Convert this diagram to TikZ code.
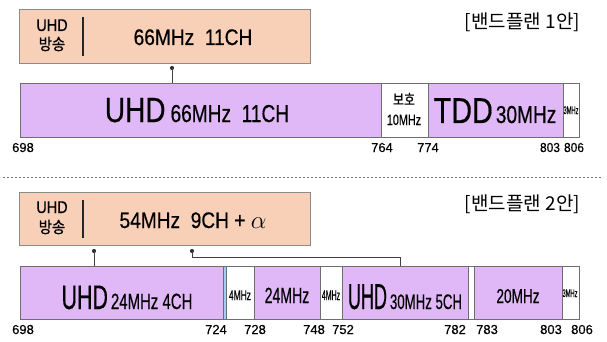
\documentclass[tikz,border=0pt]{standalone}
\usepackage{fontspec}
\setmainfont{Liberation Sans}[FakeBold=0.5]
\newfontfamily\kr{Noto Sans CJK KR}
\newfontfamily\krb{Noto Sans CJK KR}[FakeBold=0.8]
\usepackage{graphicx}
\newcommand\hs[2]{\scalebox{#1}[1]{#2}}
\newcommand\fs[1]{\fontsize{#1}{#1}\selectfont}
\definecolor{peach}{HTML}{F8D0B8}
\definecolor{lav}{HTML}{E0B8F8}
\definecolor{edge}{HTML}{6E6E6E}
\definecolor{blu}{HTML}{A8CCEE}
\begin{document}
\begin{tikzpicture}[x=1pt,y=-1pt,
  seg/.style={draw=edge, line width=0.9pt, inner sep=0pt, outer sep=0pt, anchor=north west},
  ubox/.style={seg, fill=peach, draw=edge!80},
  txt/.style={inner sep=0pt, outer sep=0pt, anchor=base},
  lbl/.style={txt, font=\fs{13}},
  conn/.style={draw=black!75, line width=0.8pt},
  dotc/.style={fill=black!80}]
\useasboundingbox (0,0) rectangle (607,342);
% ---------- Plan 1 ----------
\node[ubox, minimum width=291pt, minimum height=54pt] (o1) at (19,9) {};
\coordinate (v1a) at (83,17); \coordinate (v1b) at (83,56);
\draw[line width=1.4pt, black!85] (v1a) -- (v1b);
\node[txt] (o1u) at (52,31) {\hs{0.85}{\fs{17}UHD}};
\node[txt] (o1k) at (52,50) {\hs{0.9}{\krb\fs{16}방송}};
\node[txt] (o1t) at (193,45) {\hs{0.85}{\fs{22.5}66MHz\ \ 11CH}};
\node[txt, anchor=base east] (title1) at (580,29) {\kr\fs{19}[밴드플랜 1안]};

\node[seg, fill=lav, minimum width=361pt, minimum height=54pt] (a1) at (20,83) {};
\node[seg, fill=white, minimum width=47pt, minimum height=54pt] (a2) at (381,83) {};
\node[seg, fill=lav, minimum width=135pt, minimum height=54pt] (a3) at (428,83) {};
\node[seg, fill=white, minimum width=16pt, minimum height=54pt] (a4) at (563,83) {};

\node[txt] (a1t) at (197,122) {\hs{0.8}{\fs{35}UHD}\hspace{5pt}\hs{0.78}{\fs{24.5}66MHz\ \ 11CH}};
\node[txt] (a2t) at (404,105) {\hs{0.8}{\krb\fs{15}보호}};
\node[txt] (a2u) at (404,125) {\hs{0.72}{\fs{15}10MHz}};
\node[txt] (a3t) at (495,123) {\hs{0.8}{\fs{36}TDD}\hspace{3pt}\hs{0.78}{\fs{24.5}30MHz}};
\node[txt] (a4t) at (571,114) {\hs{0.52}{\fs{11}3MHz}};

\node[lbl] (l1a) at (23,152) {698};
\node[lbl] (l1b) at (382,152) {764};
\node[lbl] (l1c) at (428,152) {774};
\node[lbl] (l1d) at (550,152) {\hs{0.92}{803}};
\node[lbl] (l1e) at (574,152) {\hs{0.92}{806}};

\coordinate (d1) at (172,68);
\fill[dotc] (d1) circle (2.1pt);
\draw[conn] (d1) -- (d1 |- a1.north);

% ---------- separator ----------
\coordinate (sepL) at (3,177); \coordinate (sepR) at (602,177);
\draw[black!55, line width=0.7pt, dash pattern=on 2pt off 2pt] (sepL) -- (sepR);

% ---------- Plan 2 ----------
\node[ubox, minimum width=291pt, minimum height=53pt] (o2) at (19,192) {};
\coordinate (v2a) at (83,200); \coordinate (v2b) at (83,238);
\draw[line width=1.4pt, black!85] (v2a) -- (v2b);
\node[txt] (o2u) at (52,213) {\hs{0.85}{\fs{17}UHD}};
\node[txt] (o2k) at (52,233) {\hs{0.9}{\krb\fs{16}방송}};
\node[txt] (o2t) at (193,228) {\hs{0.85}{\fs{22.5}54MHz\ \ 9CH + }\fs{36}$\alpha$};
\node[txt, anchor=base east] (title2) at (580,210) {\kr\fs{19}[밴드플랜 2안]};

\node[seg, fill=lav, minimum width=203pt, minimum height=53pt] (b1) at (20,266) {};
\node[seg, fill=blu, minimum width=3pt, minimum height=53pt] (b2) at (223,266) {};
\node[seg, fill=white, minimum width=28pt, minimum height=53pt] (b3) at (226,266) {};
\node[seg, fill=lav, minimum width=66pt, minimum height=53pt] (b4) at (254,266) {};
\node[seg, fill=white, minimum width=22pt, minimum height=53pt] (b5) at (320,266) {};
\node[seg, fill=lav, minimum width=126pt, minimum height=53pt] (b6) at (342,266) {};
\node[seg, fill=white, minimum width=6pt, minimum height=53pt] (b7) at (468,266) {};
\node[seg, fill=lav, minimum width=88pt, minimum height=53pt] (b8) at (474,266) {};
\node[seg, fill=white, minimum width=17pt, minimum height=53pt] (b9) at (562,266) {};

\node[txt] (b1t) at (127,309) {\hs{0.63}{\fs{34}UHD}\hspace{3pt}\hs{0.68}{\fs{22}24MHz 4CH}};
\node[txt] (b3t) at (240,300) {\hs{0.6}{\fs{14}4MHz}};
\node[txt] (b4t) at (287,303) {\hs{0.64}{\fs{22}24MHz}};
\node[txt] (b5t) at (331,300) {\hs{0.5}{\fs{14}4MHz}};
\node[txt] (b6t) at (405,309) {\hs{0.5}{\fs{36}UHD}\hspace{3pt}\hs{0.63}{\fs{21}30MHz 5CH}};
\node[txt] (b8t) at (518,303) {\hs{0.68}{\fs{20}20MHz}};
\node[txt] (b9t) at (570,297) {\hs{0.52}{\fs{11}3MHz}};

\node[lbl] (l2a) at (23,334) {698};
\node[lbl] (l2b) at (216,334) {724};
\node[lbl] (l2c) at (255,334) {728};
\node[lbl] (l2d) at (314,334) {748};
\node[lbl] (l2e) at (343,334) {752};
\node[lbl] (l2f) at (455,334) {782};
\node[lbl] (l2g) at (487,334) {783};
\node[lbl] (l2h) at (551,334) {803};
\node[lbl] (l2i) at (582,334) {806};

\coordinate (d2) at (94,251);
\coordinate (d3) at (192,251);
\coordinate (k1) at (192,257);
\coordinate (k2) at (400,257);
\fill[dotc] (d2) circle (2.1pt);
\fill[dotc] (d3) circle (2.1pt);
\draw[conn] (d2) -- (d2 |- b1.north);
\draw[conn] (d3) -- (k1) -- (k2) -- (k2 |- b6.north);
\end{tikzpicture}
\end{document}
